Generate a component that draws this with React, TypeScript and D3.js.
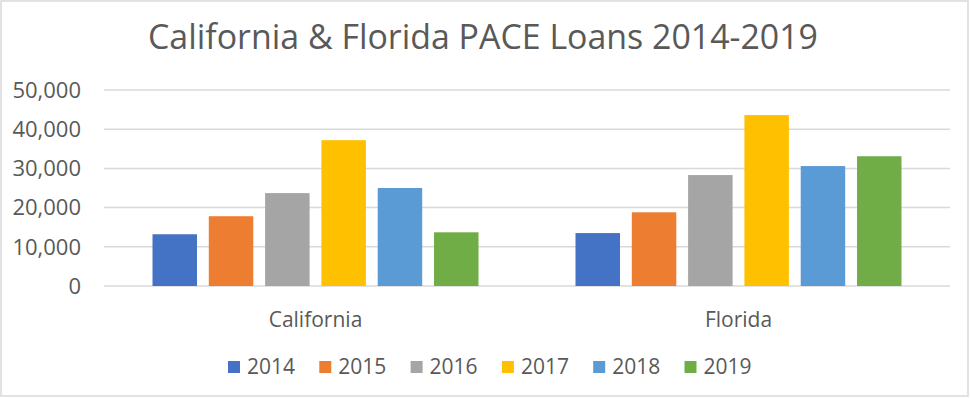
import { useEffect } from 'react';
import * as d3 from 'd3';

const states = ['California', 'Florida'];
const years = ['2014', '2015', '2016', '2017', '2018', '2019'];
const californiaLoans = [13200, 17800, 23700, 37200, 25000, 13700];
const floridaLoans = [13500, 18800, 28300, 43600, 30600, 33100];
const yTicks = [0, 10000, 20000, 30000, 40000, 50000];
const yearColors = ['#4472C4', '#ED7D31', '#A5A5A5', '#FFC000', '#5B9BD5', '#70AD47'];

const loansByState: Record<string, number[]> = {
  California: californiaLoans,
  Florida: floridaLoans,
};

const width = 970;
const height = 398;
const font = '"Open Sans", "Noto Sans", sans-serif';
const textColor = '#595959';

export default function App() {
  useEffect(() => {
    document.body.style.margin = '0';
  }, []);

  const plot = { left: 104, right: 950, top: 90, bottom: 286 };

  const x0 = d3.scaleBand<string>().domain(states).range([plot.left, plot.right]).padding(0);
  const groupPad = 48.5;
  const x1 = d3
    .scaleBand<string>()
    .domain(years)
    .range([groupPad, x0.bandwidth() - groupPad])
    .paddingInner(0.21)
    .paddingOuter(0);
  const y = d3.scaleLinear().domain([0, 50000]).range([plot.bottom, plot.top]);
  const fmt = d3.format(',');

  const legendStep = 91.3;
  const legendStart = 228;

  return (
    <svg width={width} height={height} style={{ display: 'block' }}>
      <rect x={0} y={0} width={width} height={height} fill="#ffffff" />
      <rect x={1} y={1} width={967} height={395} fill="none" stroke="#d9d9d9" strokeWidth={1.5} />

      <text
        x={483}
        y={49}
        textAnchor="middle"
        fontFamily={font}
        fontSize={34}
        fill={textColor}
        textLength={670}
        lengthAdjust="spacingAndGlyphs"
      >
        California &amp; Florida PACE Loans 2014-2019
      </text>

      {yTicks.map((t) => (
        <g key={t}>
          <line x1={plot.left} x2={plot.right} y1={y(t)} y2={y(t)} stroke="#d9d9d9" strokeWidth={1.5} />
          <text
            x={81}
            y={y(t)}
            dy="0.35em"
            textAnchor="end"
            fontFamily={font}
            fontSize={22}
            fill={textColor}
          >
            {fmt(t)}
          </text>
        </g>
      ))}

      {states.map((s) => (
        <g key={s} transform={`translate(${x0(s)},0)`}>
          {years.map((yr, i) => {
            const v = loansByState[s][i];
            return (
              <rect
                key={yr}
                x={x1(yr)}
                y={y(v)}
                width={x1.bandwidth()}
                height={y(0) - y(v)}
                fill={yearColors[i]}
              />
            );
          })}
          <text
            x={x0.bandwidth() / 2}
            y={320}
            dy="0.35em"
            textAnchor="middle"
            fontFamily={font}
            fontSize={21}
            fill={textColor}
          >
            {s}
          </text>
        </g>
      ))}

      {years.map((yr, i) => (
        <g key={yr} transform={`translate(${legendStart + i * legendStep},367)`}>
          <rect x={0} y={-6} width={12} height={12} fill={yearColors[i]} />
          <text x={19} y={0} dy="0.35em" fontFamily={font} fontSize={21} fill={textColor}>
            {yr}
          </text>
        </g>
      ))}
    </svg>
  );
}
